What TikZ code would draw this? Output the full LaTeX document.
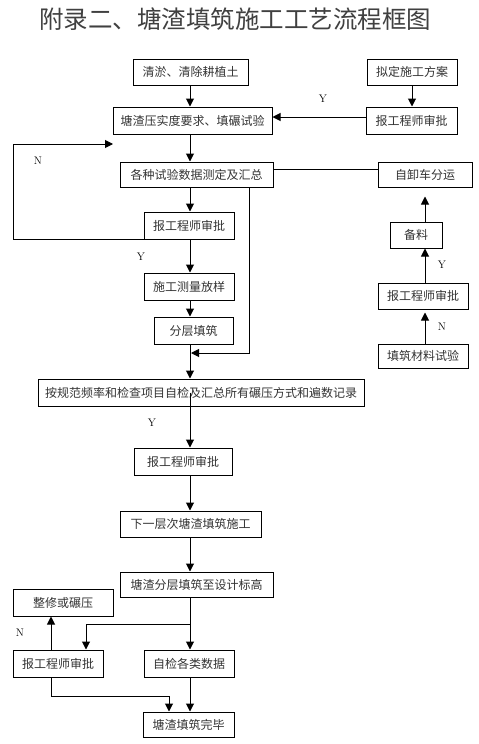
\documentclass[tikz,border=0pt]{standalone}
\usepackage{fontspec}
\newfontfamily\cjk{Noto Sans CJK SC}
\usetikzlibrary{arrows.meta}
\tikzset{
  bx/.style={draw, line width=1pt, inner sep=0pt, font=\cjk\fontsize{12}{12}\selectfont, text=black!80},
  arr/.style={line width=1pt, -{Triangle[width=8pt,length=8pt]}},
  ln/.style={line width=1pt},
  lbl/.style={font=\fontsize{11}{12}\selectfont}
}
\begin{document}
\begin{tikzpicture}[x=1pt,y=-1pt]
\useasboundingbox (0,0) rectangle (479,744);
\node[font=\cjk\fontsize{24.5}{25}\selectfont, text=black!75] (title) at (235,19) {附录二、塘渣填筑施工工艺流程框图};
% boxes
\node[bx, minimum width=115pt, minimum height=26pt] (qy) at (190.5,72) {清淤、清除耕植土};
\node[bx, minimum width=90pt, minimum height=26pt] (nd) at (412,72) {拟定施工方案};
\node[bx, minimum width=159pt, minimum height=27pt] (yq) at (192.5,120.5) {塘渣压实度要求、填碾试验};
\node[bx, minimum width=91pt, minimum height=27pt] (sp1) at (411.5,120.5) {报工程师审批};
\node[bx, minimum width=153pt, minimum height=25pt] (gz) at (196.5,174.5) {各种试验数据测定及汇总};
\node[bx, minimum width=94pt, minimum height=25pt] (zx) at (425,174.5) {自卸车分运};
\node[bx, minimum width=90pt, minimum height=27pt] (sp2) at (189,225.5) {报工程师审批};
\node[bx, minimum width=52pt, minimum height=26pt] (bl) at (416,235) {备料};
\node[bx, minimum width=90pt, minimum height=27pt] (cl) at (189,286.5) {施工测量放样};
\node[bx, minimum width=90pt, minimum height=26pt] (sp3) at (423,296) {报工程师审批};
\node[bx, minimum width=79pt, minimum height=27pt] (fc) at (193.5,330.5) {分层填筑};
\node[bx, minimum width=90pt, minimum height=24pt] (tc) at (423,356) {填筑材料试验};
\node[bx, minimum width=326pt, minimum height=27pt] (ag) at (201,392.5) {按规范频率和检查项目自检及汇总所有碾压方式和遍数记录};
\node[bx, minimum width=98pt, minimum height=27pt] (sp4) at (183,461.5) {报工程师审批};
\node[bx, minimum width=141pt, minimum height=26pt] (xy) at (190.5,524) {下一层次塘渣填筑施工};
\node[bx, minimum width=153pt, minimum height=25pt] (fd) at (196.5,584.5) {塘渣分层填筑至设计标高};
\node[bx, minimum width=100pt, minimum height=27pt] (zx2) at (63,602.5) {整修或碾压};
\node[bx, minimum width=90pt, minimum height=27pt] (sp5) at (58,663.5) {报工程师审批};
\node[bx, minimum width=90pt, minimum height=27pt] (zj) at (189,663.5) {自检各类数据};
\node[bx, minimum width=91pt, minimum height=25pt] (wb) at (188.5,724.5) {塘渣填筑完毕};
% helper coordinates
\coordinate (mx) at (190,0);
\coordinate (rx) at (425,0);
\coordinate (lx) at (51,0);
\coordinate (lpL) at (13,144);
\coordinate (lpE) at (113,144);
\coordinate (bp) at (249,353);
\coordinate (bpE) at (191,353);
\coordinate (br) at (86,624);
\coordinate (bj) at (169,696);
% main column
\draw[arr] (qy.south -| mx) -- (yq.north -| mx);
\draw[arr] (yq.south -| mx) -- (gz.north -| mx);
\draw[arr] (gz.south -| mx) -- (sp2.north -| mx);
\draw[arr] (sp2.south -| mx) -- (cl.north -| mx);
\draw[arr] (cl.south -| mx) -- (fc.north -| mx);
\draw[arr] (fc.south -| mx) -- (ag.north -| mx);
\draw[arr] (ag.center -| mx) -- (sp4.north -| mx);
\draw[arr] (sp4.south -| mx) -- (xy.north -| mx);
\draw[arr] (xy.south -| mx) -- (fd.north -| mx);
\draw[arr] (fd.south -| mx) -- (zj.north -| mx);
\draw[arr] (zj.south -| mx) -- (wb.north -| mx);
% loop N
\draw[arr] (sp2.south west) -- (sp2.south west -| lpL) -- (lpL) -- (lpE);
% side branch from gz
\draw[arr] (gz.south -| bp) -- (bp) -- (bpE);
\draw[ln] ([yshift=5.5pt]gz.east) -- ([yshift=5.5pt]zx.west);
% right column
\draw[arr] (nd.south) -- (sp1.north -| nd.south);
\draw[arr] ([yshift=3.5pt]sp1.west) -- ([yshift=3.5pt]yq.east);
\draw[arr, shorten >=9pt] (bl.north -| rx) -- (zx.south -| rx);
\draw[arr] (sp3.north -| rx) -- (bl.south -| rx);
\draw[arr, shorten >=3pt] (tc.north -| rx) -- (sp3.south -| rx);
% bottom
\draw[arr] (br -| mx) -- (br) -- (sp5.north -| br);
\draw[arr] (sp5.north -| lx) -- (zx2.south -| lx);
\draw[arr] (sp5.south -| lx) |- (bj) -- (wb.north -| bj);
% labels
\node[lbl] (y1) at (323,99) {Y};
\node[lbl] (n1) at (38,161) {N};
\node[lbl] (y2) at (141,257) {Y};
\node[lbl] (y3) at (442,265) {Y};
\node[lbl] (n2) at (442,327) {N};
\node[lbl] (y4) at (152,423) {Y};
\node[lbl] (n3) at (20,633) {N};
\end{tikzpicture}
\end{document}
